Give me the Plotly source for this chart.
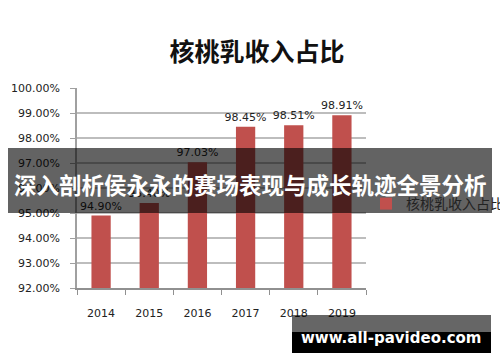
import plotly.graph_objects as go

years = ["2014", "2015", "2016", "2017", "2018", "2019"]
shares = [0.9490, 0.9540, 0.9703, 0.9845, 0.9851, 0.9891]
series_name = "核桃乳收入占比"
chart_title = "核桃乳收入占比"
banner_text = "深入剖析侯永永的赛场表现与成长轨迹全景分析"
watermark_text = "www.all-pavideo.com"
y_ticks = [0.92, 0.93, 0.94, 0.95, 0.96, 0.97, 0.98, 0.99, 1.00]

fig = go.Figure()
fig.add_trace(go.Bar(
    x=years, y=shares, name=series_name,
    marker=dict(color="#C0504D", line=dict(width=0)),
    text=[f"{v*100:.2f}%" for v in shares],
    textposition="outside", constraintext="none", cliponaxis=False,
    textfont=dict(family="DejaVu Sans", size=11, color="#222"),
    showlegend=True,
))

fig.update_layout(
    width=500, height=362,
    margin=dict(l=77, r=134, t=88, b=74, autoexpand=False),
    paper_bgcolor="white", plot_bgcolor="white",
    bargap=0.6,
    font=dict(family="DejaVu Sans", size=11, color="#222"),
    title=dict(text=chart_title, x=257/500, xanchor="center", y=1-52/362, yanchor="middle",
               font=dict(family="Noto Sans CJK SC", size=25, color="#111", weight="bold")),
    legend=dict(x=(366-77)/289, xanchor="left", y=0.42, yanchor="middle",
                bgcolor="rgba(0,0,0,0)", itemwidth=30,
                font=dict(family="Noto Sans CJK SC", size=14, color="#222")),
    showlegend=True,
)
fig.update_yaxes(range=[0.92, 1.0], tickvals=y_ticks, tickformat=".2%",
                 showgrid=True, gridcolor="#BDBDBD", gridwidth=1.5,
                 showline=True, linecolor="#A0A0A0", linewidth=1.5,
                 ticks="outside", ticklen=5, tickcolor="#A0A0A0",
                 ticklabelstandoff=8, zeroline=False)
fig.update_xaxes(showline=True, linecolor="#909090", linewidth=1.5,
                 ticks="outside", ticklen=5, tickcolor="#909090", tickson="boundaries",
                 ticklabelstandoff=14, showgrid=False)

# banner overlay
fig.add_shape(type="rect", xref="paper", yref="paper",
              x0=(8-77)/289, x1=(492-77)/289, y0=(288-213)/200, y1=(288-148)/200,
              fillcolor="rgba(0,0,0,0.61)", line=dict(width=0), layer="above")
fig.add_annotation(text=banner_text, xref="paper", yref="paper",
                   x=(250-77)/289, y=(288-184)/200, xanchor="center", yanchor="middle",
                   showarrow=False,
                   font=dict(family="Noto Sans CJK SC", size=22.5, color="white", weight="bold"))
# watermark
fig.add_shape(type="rect", xref="paper", yref="paper",
              x0=(292-77)/289, x1=(491-77)/289, y0=(288-332)/200, y1=(288-315)/200,
              fillcolor="rgba(0,0,0,0.6)", line=dict(width=0), layer="above")
fig.add_shape(type="rect", xref="paper", yref="paper",
              x0=(292-77)/289, x1=(491-77)/289, y0=(288-353)/200, y1=(288-332)/200,
              fillcolor="black", line=dict(width=0), layer="above")
fig.add_annotation(text=watermark_text, xref="paper", yref="paper",
                   x=(391-77)/289, y=(288-338)/200, xanchor="center", yanchor="middle",
                   showarrow=False,
                   font=dict(family="DejaVu Sans", size=15, color="white", weight="bold"))

fig.write_html("out.html")
